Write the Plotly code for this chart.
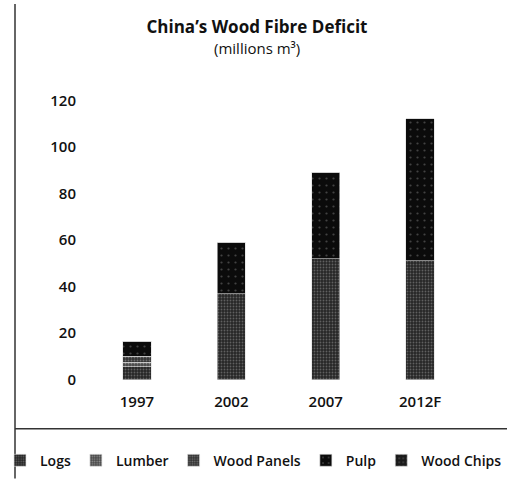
import plotly.graph_objects as go

# Wood fibre deficit by product, millions of cubic metres
years = ["1997", "2002", "2007", "2012F"]
logs = [5.5, 37, 52, 51]
lumber = [2.0, 0, 0, 0]
wood_panels = [2.5, 0, 0, 0]
pulp = [6.5, 22, 37, 61]
wood_chips = [0, 0, 0, 0]

y_ticks = [0, 20, 40, 60, 80, 100, 120]

FONT = "Open Sans"
INK = "#111111"

series = [
    ("Logs", logs, "#262626", "#9a9a9a", 3, 0.3),
    ("Lumber", lumber, "#4a4a4a", "#d0d0d0", 3, 0.3),
    ("Wood Panels", wood_panels, "#333333", "#b0b0b0", 3, 0.3),
    ("Pulp", pulp, "#0b0b0b", "#7a7a7a", 7, 0.08),
    ("Wood Chips", wood_chips, "#1a1a1a", "#888888", 5, 0.15),
]

fig = go.Figure()
for name, vals, bg, fg, size, solid in series:
    fig.add_trace(go.Bar(
        x=years, y=vals, name=name, width=0.3,
        marker=dict(
            color=bg,
            line=dict(width=0.6, color="#dcdcdc"),
            pattern=dict(shape=".", fgcolor=fg, bgcolor=bg, size=size,
                         solidity=solid, fillmode="overlay"),
        ),
    ))

fig.update_layout(
    barmode="stack",
    width=507, height=479,
    margin=dict(l=85, r=0, t=77, b=97),
    paper_bgcolor="white", plot_bgcolor="white",
    font=dict(family=FONT, size=14, color=INK, weight=600),
    title=dict(
        text="<b>China’s Wood Fibre Deficit</b>",
        font=dict(family=FONT, size=17, color=INK),
        x=257 / 507, xanchor="center", xref="container",
        y=1 - 27 / 479, yanchor="middle", yref="container",
    ),
    showlegend=True,
    legend=dict(
        orientation="h", x=-0.179, xanchor="left", y=-0.258, yanchor="middle",
        font=dict(family=FONT, size=14, color=INK, weight=600),
        itemwidth=30, traceorder="normal", itemclick=False,
        bgcolor="rgba(0,0,0,0)",
    ),
    xaxis=dict(
        type="category", range=[-0.55, 3.92], showgrid=False, showline=False,
        zeroline=False, ticks="", ticklabelstandoff=9,
        tickfont=dict(family=FONT, size=15, weight=600),
    ),
    yaxis=dict(
        range=[-1, 130], tickvals=y_ticks, showgrid=False, showline=False,
        zeroline=False, ticks="", ticklabelstandoff=8,
        tickfont=dict(family=FONT, size=15, weight=600),
    ),
    annotations=[dict(
        text="(millions m³)", xref="paper", yref="paper",
        x=(257 - 85) / 422, y=(382.3 - 48) / 305.3,
        xanchor="center", yanchor="middle", showarrow=False,
        font=dict(family=FONT, size=15, color=INK, weight=500),
    )],
    shapes=[
        # left rule running the full height of the page
        dict(type="line", xref="paper", yref="paper",
             x0=(15 - 85) / 422, x1=(15 - 85) / 422,
             y0=(382.3 - 4) / 305.3, y1=(382.3 - 479) / 305.3,
             line=dict(color="#333333", width=1.5)),
        # rule separating the chart from the legend
        dict(type="line", xref="paper", yref="paper",
             x0=(15 - 85) / 422, x1=1.0,
             y0=(382.3 - 429) / 305.3, y1=(382.3 - 429) / 305.3,
             line=dict(color="#333333", width=1.5)),
    ],
)

fig.write_html("out.html")
